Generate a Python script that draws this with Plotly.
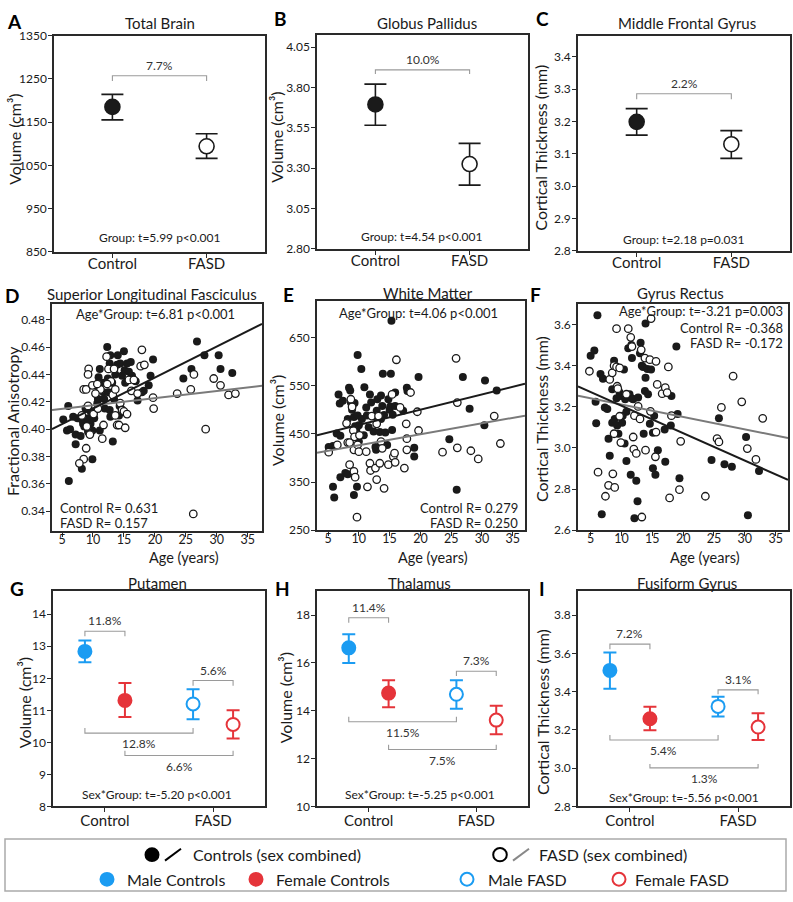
import plotly.graph_objects as go

W, H = 793, 902
FONT = "Lato"
BLUE = "#1b9cf2"
RED = "#e5343a"
DARK = "#1a1a1a"
BRK = "#9a9a9a"
FITGRAY = "#7a7a7a"

# ------------------------------------------------------------------ data
groups = ["Control", "FASD"]

# A Total Brain (cm3)
A_mean = [1185, 1094]
A_lo = [1155, 1066]
A_hi = [1214, 1123]
A_brk = [1257, 1245]          # bracket level, tick end
A_pct = "7.7%"
A_stat = "Group: t=5.99 p<0.001"

# B Globus Pallidus (cm3)
B_mean = [3.695, 3.326]
B_lo = [3.566, 3.195]
B_hi = [3.821, 3.454]
B_brk = [3.909, 3.883]
B_pct = "10.0%"
B_stat = "Group: t=4.54 p<0.001"

# C Middle Frontal Gyrus (mm)
C_mean = [3.199, 3.130]
C_lo = [3.158, 3.086]
C_hi = [3.240, 3.172]
C_brk = [3.286, 3.269]
C_pct = "2.2%"
C_stat = "Group: t=2.18 p=0.031"

# D Superior Longitudinal Fasciculus (FA)
D_ctrl_age = [5.2, 6.0, 5.8, 6.3, 6.1, 6.8, 7.2, 7.2, 7.5, 8.0, 8.2, 8.4, 8.2, 8.8, 8.6, 9.2, 9.3, 9.6,
              9.9, 9.9, 9.6, 10.2, 10.7, 10.8, 10.9, 11.1, 10.9, 11.1, 11.5, 11.7, 11.8, 12.3, 12.4,
              12.5, 12.7, 12.8, 13.1, 13.2, 13.4, 13.6, 13.9, 14.0, 14.2, 14.3, 14.4, 14.7, 15.0,
              15.1, 15.2, 15.5, 15.8, 16.1, 16.3, 16.9, 17.2, 17.9, 18.2, 19.0, 19.3, 19.7, 24.6,
              25.9, 26.8, 28.0, 30.3, 30.6, 32.5, 11.9, 12.7, 12.8, 10.2, 9.2]
D_ctrl_fa = [0.407, 0.417, 0.399, 0.400, 0.362, 0.409, 0.396, 0.389, 0.408, 0.395, 0.371, 0.404,
             0.407, 0.415, 0.402, 0.408, 0.399, 0.404, 0.399, 0.378, 0.413, 0.408, 0.419, 0.422,
             0.430, 0.444, 0.438, 0.399, 0.434, 0.427, 0.422, 0.460, 0.437, 0.427, 0.448, 0.454,
             0.434, 0.391, 0.422, 0.440, 0.447, 0.454, 0.410, 0.417, 0.448, 0.439, 0.457, 0.443,
             0.434, 0.448, 0.442, 0.449, 0.439, 0.435, 0.421, 0.427, 0.428, 0.432, 0.439, 0.451,
             0.437, 0.444, 0.464, 0.454, 0.454, 0.444, 0.441, 0.415, 0.414, 0.409, 0.413, 0.398]
D_fasd_age = [9.0, 9.3, 9.2, 8.5, 8.9, 9.9, 9.2, 8.2, 8.9, 8.5, 7.8, 9.5, 10.1, 10.8, 11.2, 11.7,
              11.5, 12.2, 12.5, 12.9, 13.2, 13.6, 13.9, 14.2, 14.4, 14.7, 15.0, 15.2, 15.5, 15.8,
              16.2, 16.6, 17.2, 17.7, 17.9, 18.3, 19.7, 19.8, 23.6, 25.8, 26.3, 28.2, 26.2, 29.5,
              30.6, 31.9, 33.0, 10.4, 10.7, 12.3, 13.4, 13.6]
D_fasd_fa = [0.402, 0.444, 0.440, 0.429, 0.429, 0.432, 0.417, 0.410, 0.386, 0.378, 0.375, 0.396,
             0.411, 0.415, 0.429, 0.403, 0.393, 0.453, 0.444, 0.435, 0.425, 0.410, 0.403, 0.403,
             0.419, 0.414, 0.413, 0.401, 0.411, 0.436, 0.428, 0.436, 0.426, 0.446, 0.458, 0.447,
             0.423, 0.415, 0.426, 0.429, 0.440, 0.400, 0.338, 0.437, 0.432, 0.425, 0.426, 0.426,
             0.433, 0.433, 0.444, 0.429]
D_ctrl_fit = [0.3923, 0.00227]     # intercept, slope
D_fasd_fit = [0.4122, 0.000522]
D_stats = ["Age*Group: t=6.81 p<0.001", "Control R= 0.631", "FASD R= 0.157"]

# E White Matter (cm3)
E_ctrl_age = [5.1, 5.8, 5.8, 6.0, 6.4, 7.0, 6.7, 6.9, 7.4, 7.0, 7.8, 8.2, 8.2, 8.4, 8.6, 8.7, 8.9,
              9.2, 9.3, 9.4, 9.6, 9.2, 9.7, 9.8, 9.8, 10.0, 10.0, 10.4, 10.5, 10.8, 10.9, 11.2,
              11.3, 11.6, 11.8, 12.0, 12.4, 12.5, 12.7, 12.8, 12.9, 13.0, 13.4, 13.6, 13.6, 13.8,
              13.9, 14.1, 14.3, 14.6, 14.8, 15.0, 15.1, 15.3, 15.2, 15.4, 15.5, 15.9, 15.9, 17.8,
              17.9, 17.2, 19.0, 19.0, 19.7, 24.7, 25.9, 26.9, 28.0, 30.5, 30.4, 32.4]
E_ctrl_vol = [423, 425, 340, 318, 451, 446, 532, 513, 519, 360, 369, 366, 481, 546, 540, 515, 500,
              485, 514, 466, 460, 323, 340, 614, 488, 468, 434, 585, 481, 447, 547, 505, 488, 464,
              532, 515, 455, 487, 423, 417, 498, 522, 454, 481, 530, 508, 575, 489, 453, 427, 522,
              500, 507, 685, 575, 458, 490, 536, 508, 546, 539, 498, 421, 403, 568, 439, 334, 568,
              502, 561, 468, 540]
E_fasd_age = [5.1, 6.5, 8.0, 8.2, 8.5, 8.7, 8.9, 9.1, 9.3, 9.2, 8.5, 9.2, 9.4, 9.7, 9.8, 10.0, 10.1,
              11.2, 11.4, 11.8, 11.9, 12.1, 12.7, 12.9, 12.9, 13.2, 13.4, 13.6, 13.8, 14.1, 14.8,
              15.4, 15.6, 15.8, 15.9, 16.1, 16.7, 17.4, 17.7, 17.8, 17.8, 18.4, 19.5, 19.7, 23.6,
              25.8, 26.0, 26.0, 28.2, 29.4, 32.0, 33.0]
E_fasd_vol = [412, 427, 472, 432, 432, 522, 506, 457, 444, 417, 386, 372, 360, 277, 427, 413, 447,
              413, 340, 389, 374, 487, 379, 355, 471, 487, 389, 434, 420, 337, 386, 532, 403, 410,
              391, 604, 505, 379, 471, 440, 417, 536, 496, 457, 412, 607, 515, 421, 415, 398, 487,
              430]
E_ctrl_fit = [436.9, 3.166]
E_fasd_fit = [403.7, 2.278]
E_stats = ["Age*Group: t=4.06 p<0.001", "Control R= 0.279", "FASD R= 0.250"]

# F Gyrus Rectus (mm)
F_ctrl_age = [5.0, 5.6, 5.8, 5.9, 6.1, 6.6, 7.0, 6.8, 7.3, 7.7, 7.9, 8.1, 8.5, 8.5, 8.8, 8.9, 9.0,
              9.2, 9.3, 9.5, 9.7, 9.9, 10.1, 10.2, 10.4, 10.5, 10.6, 10.8, 10.8, 11.1, 11.3, 11.5,
              11.6, 11.7, 11.7, 11.9, 12.4, 12.6, 12.1, 12.7, 13.0, 13.1, 13.3, 13.5, 13.6, 13.8,
              13.9, 13.9, 14.2, 14.3, 14.6, 14.8, 15.1, 15.1, 15.3, 15.5, 15.9, 17.0, 17.1, 18.0,
              18.1, 18.9, 19.1, 19.4, 24.6, 25.8, 26.7, 27.9, 30.2, 30.5, 32.3]
F_ctrl_ct = [3.448, 3.474, 3.224, 3.120, 3.645, 3.360, 3.336, 2.677, 3.197, 3.189, 3.045, 2.962,
             3.285, 3.122, 3.424, 3.141, 3.394, 3.242, 3.109, 3.069, 3.269, 3.253, 3.122, 3.157,
             3.381, 3.021, 3.237, 3.176, 2.936, 3.485, 3.261, 2.869, 3.501, 3.437, 3.240, 3.237,
             2.840, 2.741, 2.658, 3.245, 3.461, 3.512, 3.400, 3.394, 3.069, 3.277, 3.605, 3.341,
             3.384, 3.261, 3.117, 3.381, 2.901, 3.074, 3.157, 2.869, 2.989, 3.090, 2.933, 3.109,
             3.253, 3.493, 3.165, 2.853, 2.941, 3.144, 2.920, 2.909, 3.053, 2.672, 2.888]
F_fasd_age = [4.8, 6.2, 7.4, 7.9, 8.1, 8.5, 8.8, 8.6, 8.9, 9.2, 9.2, 9.3, 9.4, 9.7, 9.7, 9.9, 8.8,
              10.8, 11.1, 11.5, 11.7, 11.9, 12.0, 12.1, 12.4, 12.7, 13.0, 13.2, 13.3, 13.8, 13.9,
              14.6, 14.7, 14.8, 15.5, 15.6, 15.6, 15.8, 16.6, 17.1, 17.4, 17.6, 17.8, 18.1, 19.6,
              19.4, 23.6, 25.5, 25.8, 26.2, 28.1, 29.5, 30.4, 31.8, 32.9]
F_fasd_ct = [3.373, 2.882, 2.765, 2.818, 3.333, 3.365, 3.400, 2.874, 2.808, 3.394, 3.580, 3.300,
             3.288, 3.389, 3.154, 3.026, 3.069, 3.261, 3.580, 3.538, 3.493, 3.053, 2.994, 3.157,
             2.973, 3.202, 3.141, 3.477, 2.664, 3.437, 2.989, 3.429, 3.178, 3.629, 2.957, 3.077,
             3.421, 3.309, 3.264, 3.293, 3.269, 3.394, 2.757, 3.157, 3.032, 2.797, 2.765, 3.045,
             3.029, 3.197, 3.349, 3.224, 2.997, 2.944, 3.144]
F_ctrl_fit = [3.339, -0.01336]
F_fasd_fit = [3.271, -0.00602]
F_stats = ["Age*Group: t=-3.21 p=0.003", "Control R= -0.368", "FASD R= -0.172"]

# G Putamen (cm3): male, female for Control, FASD
G_male_mean = [12.84, 11.20]
G_male_lo = [12.50, 10.72]
G_male_hi = [13.18, 11.66]
G_fem_mean = [11.31, 10.56]
G_fem_lo = [10.79, 10.12]
G_fem_hi = [11.85, 11.00]
G_pcts = ["11.8%", "5.6%", "12.8%", "6.6%"]
G_brk = [[13.47, 13.31], [11.93, 11.77], [10.29, 10.45], [9.59, 9.74]]
G_stat = "Sex*Group: t=-5.20 p<0.001"

# H Thalamus (cm3)
H_male_mean = [16.63, 14.69]
H_male_lo = [16.00, 14.08]
H_male_hi = [17.20, 15.28]
H_fem_mean = [14.74, 13.61]
H_fem_lo = [14.15, 13.02]
H_fem_hi = [15.28, 14.21]
H_pcts = ["11.4%", "7.3%", "11.5%", "7.5%"]
H_brk = [[17.89, 17.68], [15.65, 15.45], [13.54, 13.75], [12.38, 12.58]]
H_stat = "Sex*Group: t=-5.25 p<0.001"

# I Fusiform Gyrus (mm)
I_male_mean = [3.511, 3.323]
I_male_lo = [3.415, 3.270]
I_male_hi = [3.605, 3.373]
I_fem_mean = [3.258, 3.215]
I_fem_lo = [3.198, 3.147]
I_fem_hi = [3.321, 3.287]
I_pcts = ["7.2%", "3.1%", "5.4%", "1.3%"]
I_brk = [[3.648, 3.622], [3.409, 3.387], [3.147, 3.173], [3.002, 3.022]]
I_stat = "Sex*Group: t=-5.56 p<0.001"

# ------------------------------------------------------------------ helpers
def px(x):
    return x / W


def py(y):
    return 1 - y / H


fig = go.Figure()
layout = {}
annotations = []
shapes = []


def text(x, y, s, size=12, xanchor="center", yanchor="middle", angle=0, bold=False, color=DARK):
    annotations.append(dict(
        x=px(x), y=py(y), xref="paper", yref="paper", text=("<b>%s</b>" % s) if bold else s,
        showarrow=False, xanchor=xanchor, yanchor=yanchor, textangle=angle,
        font=dict(family=FONT, size=size, color=color)))


def axes(i, box, xr, yr, xtv, xtt, ytv, ytt, xfont=12, xstand=0):
    x0, y0, x1, y1 = box
    common = dict(showline=True, mirror=True, linecolor="#2a2a2a", linewidth=1.5,
                  ticks="outside", ticklen=4, tickwidth=1.2, tickcolor="#2a2a2a",
                  showgrid=False, zeroline=False, fixedrange=True)
    layout["xaxis%d" % i] = dict(domain=[px(x0), px(x1)], anchor="y%d" % i, range=xr,
                                 tickmode="array", tickvals=xtv, ticktext=xtt,
                                 ticklabelstandoff=xstand,
                                 tickfont=dict(family=FONT, size=xfont, color=DARK), **common)
    layout["yaxis%d" % i] = dict(domain=[py(y1), py(y0)], anchor="x%d" % i, range=yr,
                                 tickmode="array", tickvals=ytv, ticktext=ytt,
                                 ticklabelstandoff=-1,
                                 tickfont=dict(family=FONT, size=12, color=DARK), **common)


def bracket(i, xa, xb, level, tick):
    fig.add_trace(go.Scatter(x=[xa, xa, xb, xb], y=[tick, level, level, tick], mode="lines",
                             line=dict(color=BRK, width=1.1), xaxis="x%d" % i, yaxis="y%d" % i,
                             showlegend=False, hoverinfo="skip"))


def pct_label(i, x, y, s, above=True):
    annotations.append(dict(x=x, y=y, xref="x%d" % i, yref="y%d" % i, text=s, showarrow=False,
                            xanchor="center", yanchor="bottom" if above else "top",
                            yshift=1 if above else -1,
                            font=dict(family=FONT, size=12, color="#333")))


def group_panel(i, box, yr, ytv, ytt, mean, lo, hi, brk, pct):
    axes(i, box, [-0.62, 1.62], yr, [0, 1], groups, ytv, ytt, xfont=15, xstand=-7)
    fig.add_trace(go.Scatter(
        x=[0, 1], y=mean, mode="markers",
        marker=dict(size=15, color=[DARK, "white"], line=dict(color=DARK, width=1.6)),
        error_y=dict(type="data", symmetric=False,
                     array=[h - m for h, m in zip(hi, mean)],
                     arrayminus=[m - l for m, l in zip(mean, lo)],
                     color=DARK, thickness=1.6, width=11),
        xaxis="x%d" % i, yaxis="y%d" % i, showlegend=False))
    bracket(i, 0, 1, brk[0], brk[1])
    pct_label(i, 0.5, brk[0], pct)


def sex_panel(i, box, yr, ytv, ytt, mm, ml, mh, fm, fl, fh, brks, pcts):
    axes(i, box, [-0.48, 1.48], yr, [0, 1], groups, ytv, ytt, xfont=15, xstand=-4)
    off = 0.185
    for xs, mean, lo, hi, col in [([-off, 1 - off], mm, ml, mh, BLUE),
                                  ([off, 1 + off], fm, fl, fh, RED)]:
        fig.add_trace(go.Scatter(
            x=xs, y=mean, mode="markers",
            marker=dict(size=13, color=[col, "white"], line=dict(color=col, width=2)),
            error_y=dict(type="data", symmetric=False,
                         array=[h - m for h, m in zip(hi, mean)],
                         arrayminus=[m - l for m, l in zip(mean, lo)],
                         color=col, thickness=2, width=6.5),
            xaxis="x%d" % i, yaxis="y%d" % i, showlegend=False))
    pairs = [(-off, off, True), (1 - off, 1 + off, True), (-off, 1 - off, False), (off, 1 + off, False)]
    for (xa, xb, above), (lev, tk), s in zip(pairs, brks, pcts):
        bracket(i, xa, xb, lev, tk)
        pct_label(i, (xa + xb) / 2, lev, s, above)


def scatter_panel(i, box, xr, yr, ytv, ytt, ca, cv, fa, fv, cfit, ffit):
    axes(i, box, xr, yr, [5, 10, 15, 20, 25, 30, 35], ["5", "10", "15", "20", "25", "30", "35"],
         ytv, ytt, xfont=12.5, xstand=-8)
    fig.add_trace(go.Scatter(x=ca, y=cv, mode="markers",
                             marker=dict(size=8, color=DARK, line=dict(width=0)),
                             xaxis="x%d" % i, yaxis="y%d" % i, showlegend=False))
    fig.add_trace(go.Scatter(x=fa, y=fv, mode="markers",
                             marker=dict(size=7.5, color="white", line=dict(color=DARK, width=1.3)),
                             xaxis="x%d" % i, yaxis="y%d" % i, showlegend=False))
    for fit, col in [(ffit, FITGRAY), (cfit, DARK)]:
        xs = [xr[0], xr[1]]
        fig.add_trace(go.Scatter(x=xs, y=[fit[0] + fit[1] * x for x in xs], mode="lines",
                                 line=dict(color=col, width=2),
                                 xaxis="x%d" % i, yaxis="y%d" % i, showlegend=False))


# ------------------------------------------------------------------ panels
ticks_A = [850, 950, 1050, 1150, 1250, 1350]
group_panel(1, (54, 28, 265, 248), [850, 1350], ticks_A, [str(v) for v in ticks_A],
            A_mean, A_lo, A_hi, A_brk, A_pct)
ticks_B = [2.80, 3.05, 3.30, 3.55, 3.80, 4.05]
group_panel(2, (317, 27, 528, 245), [2.80, 4.128], ticks_B, ["%.2f" % v for v in ticks_B],
            B_mean, B_lo, B_hi, B_brk, B_pct)
ticks_C = [2.8, 2.9, 3.0, 3.1, 3.2, 3.3, 3.4]
group_panel(3, (578, 28, 790, 247), [2.8, 3.466], ticks_C, ["%.1f" % v for v in ticks_C],
            C_mean, C_lo, C_hi, C_brk, C_pct)

ticks_D = [0.34, 0.36, 0.38, 0.40, 0.42, 0.44, 0.46, 0.48]
scatter_panel(4, (52, 301, 262, 532), [3.38, 37.3], [0.3254, 0.4915], ticks_D,
              ["%.2f" % v for v in ticks_D], D_ctrl_age, D_ctrl_fa, D_fasd_age, D_fasd_fa,
              D_ctrl_fit, D_fasd_fit)
ticks_E = [250, 350, 450, 550, 650]
scatter_panel(5, (317, 298, 525, 531), [3.2, 37.0], [250, 726], ticks_E,
              [str(v) for v in ticks_E], E_ctrl_age, E_ctrl_vol, E_fasd_age, E_fasd_vol,
              E_ctrl_fit, E_fasd_fit)
ticks_F = [2.6, 2.8, 3.0, 3.2, 3.4, 3.6]
scatter_panel(6, (578, 301, 788, 531), [2.95, 37.0], [2.6, 3.70], ticks_F,
              ["%.1f" % v for v in ticks_F], F_ctrl_age, F_ctrl_ct, F_fasd_age, F_fasd_ct,
              F_ctrl_fit, F_fasd_fit)

ticks_G = [8, 9, 10, 11, 12, 13, 14]
sex_panel(7, (53, 593, 265, 812), [8, 14.72], ticks_G, [str(v) for v in ticks_G],
          G_male_mean, G_male_lo, G_male_hi, G_fem_mean, G_fem_lo, G_fem_hi, G_brk, G_pcts)
ticks_H = [10, 12, 14, 16, 18]
sex_panel(8, (317, 593, 528, 812), [10, 19], ticks_H, [str(v) for v in ticks_H],
          H_male_mean, H_male_lo, H_male_hi, H_fem_mean, H_fem_lo, H_fem_hi, H_brk, H_pcts)
ticks_I = [2.8, 3.0, 3.2, 3.4, 3.6, 3.8]
sex_panel(9, (578, 593, 790, 812), [2.8, 3.925], ticks_I, ["%.1f" % v for v in ticks_I],
          I_male_mean, I_male_lo, I_male_hi, I_fem_mean, I_fem_lo, I_fem_hi, I_brk, I_pcts)

# ------------------------------------------------------------------ text
for s, x, y in [("A", 14, 14), ("B", 280, 11), ("C", 542, 11), ("D", 12, 292), ("E", 288, 291),
                ("F", 535, 291), ("G", 17, 590), ("H", 282, 590), ("I", 542, 590)]:
    text(x, y, s, size=19, bold=True, color="#000")

for s, x, y in [("Total Brain", 160, 15), ("Globus Pallidus", 427, 15),
                ("Middle Frontal Gyrus", 687, 15), ("Superior Longitudinal Fasciculus", 152, 291),
                ("White Matter", 428, 290), ("Gyrus Rectus", 680, 290), ("Putamen", 157, 585),
                ("Thalamus", 420, 585), ("Fusiform Gyrus", 687, 585)]:
    text(x, y, s, size=15)

for s, x, y in [("Volume (cm³)", 15, 134), ("Volume (cm³)", 277, 132),
                ("Cortical Thickness (mm)", 541, 142), ("Fractional Anisotropy", 12, 420),
                ("Volume (cm³)", 277, 420), ("Cortical Thickness (mm)", 541, 418),
                ("Volume (cm³)", 24, 707), ("Volume (cm³)", 285, 702),
                ("Cortical Thickness (mm)", 542, 716)]:
    text(x, y, s, size=16, angle=-90)

for x in (184, 433, 705):
    text(x, 559, "Age (years)", size=14.5)

text(160, 233, A_stat, size=12)
text(422, 232, B_stat, size=12)
text(684, 235, C_stat, size=12)
text(157, 800, G_stat, size=12)
text(420, 800, H_stat, size=12)
text(684, 803, I_stat, size=12)

text(155, 311, D_stats[0], size=13)
text(58, 508, D_stats[1], size=13, xanchor="left")
text(58, 524, D_stats[2], size=13, xanchor="left")
text(418, 310, E_stats[0], size=13)
text(520, 508, E_stats[1], size=13, xanchor="right")
text(520, 524, E_stats[2], size=13, xanchor="right")
text(785, 308, F_stats[0], size=13, xanchor="right")
text(785, 325, F_stats[1], size=13, xanchor="right")
text(785, 341, F_stats[2], size=13, xanchor="right")

# ------------------------------------------------------------------ legend box
shapes.append(dict(type="rect", xref="paper", yref="paper", x0=px(5), x1=px(786), y0=py(898),
                   y1=py(845), line=dict(color="#aaaaaa", width=1.5), fillcolor="white"))


def circle(cx, cy, r, fill, line, lw):
    shapes.append(dict(type="circle", xref="paper", yref="paper", x0=px(cx - r), x1=px(cx + r),
                       y0=py(cy + r), y1=py(cy - r), fillcolor=fill,
                       line=dict(color=line, width=lw)))


def seg(xa, ya, xb, yb, col):
    shapes.append(dict(type="line", xref="paper", yref="paper", x0=px(xa), y0=py(ya), x1=px(xb),
                       y1=py(yb), line=dict(color=col, width=2)))


circle(152, 861, 7.5, "#000", "#000", 0)
seg(165, 867, 181, 855, "#000")
text(191, 861, "Controls (sex combined)", size=16, xanchor="left")
circle(500, 861, 6.8, "white", "#000", 2)
seg(513, 867, 529, 855, "#888888")
text(537, 861, "FASD (sex combined)", size=16, xanchor="left")

circle(107, 886, 7.5, BLUE, BLUE, 0)
text(125, 886, "Male Controls", size=16, xanchor="left")
circle(256, 886, 7.5, RED, RED, 0)
text(274, 886, "Female Controls", size=16, xanchor="left")
circle(467, 886, 6.5, "white", BLUE, 2)
text(486, 886, "Male FASD", size=16, xanchor="left")
circle(619, 886, 6.5, "white", RED, 2)
text(633, 886, "Female FASD", size=16, xanchor="left")

fig.update_layout(
    width=W, height=H, margin=dict(l=0, r=0, t=0, b=0),
    paper_bgcolor="white", plot_bgcolor="white",
    font=dict(family=FONT, color=DARK), showlegend=False,
    annotations=annotations, shapes=shapes, **layout)

fig.write_html("out.html", config={"displayModeBar": False},
               post_script="document.body.style.margin='0';")
